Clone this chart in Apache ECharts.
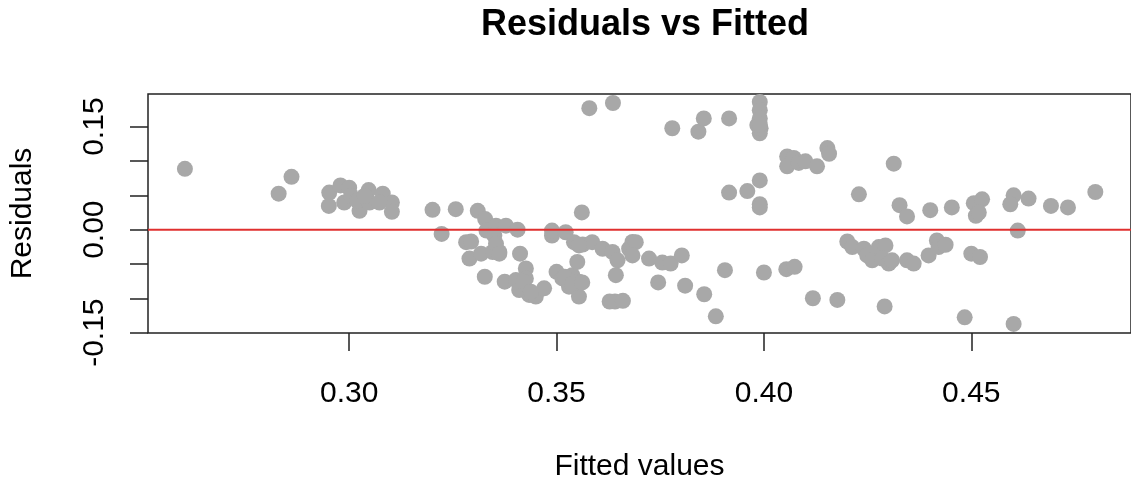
<!DOCTYPE html>
<html>
<head>
<meta charset="utf-8">
<title>Residuals vs Fitted</title>
<script src="https://cdn.jsdelivr.net/npm/echarts@6/dist/echarts.min.js"></script>
<style>
    html, body { margin: 0; padding: 0; background: #fff; }
    #chart { width: 1131px; height: 483px; }
</style>
</head>
<body>
<div id="chart"></div>
<script>
// fitted values (x) and residuals (y)
var fitted = [
    0.2604, 0.2830, 0.2861, 0.2952, 0.2951, 0.2979, 0.3000, 0.2988, 0.3005, 0.3025,
    0.3020, 0.3047, 0.3049, 0.3037, 0.3081, 0.3103, 0.3103, 0.3073, 0.3201, 0.3257,
    0.3223, 0.3579, 0.3636, 0.3310, 0.3328, 0.3331, 0.3354, 0.3378, 0.3406, 0.3350,
    0.3282, 0.3294, 0.3290, 0.3318, 0.3346, 0.3362, 0.3354, 0.3412, 0.3327, 0.3375,
    0.3426, 0.3402, 0.3426, 0.3410, 0.3434, 0.3450, 0.3470, 0.3489, 0.3489, 0.3522,
    0.3542, 0.3561, 0.3563, 0.3586, 0.3611, 0.3635, 0.3647, 0.3500, 0.3514, 0.3538,
    0.3550, 0.3554, 0.3530, 0.3554, 0.3643, 0.3641, 0.3628, 0.3362, 0.3420, 0.3438,
    0.3554, 0.3683, 0.3520, 0.3538, 0.3562, 0.3779, 0.3842, 0.3855, 0.3916, 0.3990,
    0.3990, 0.3990, 0.3984, 0.3990, 0.3992, 0.4056, 0.4072, 0.4056, 0.4084, 0.4100,
    0.4128, 0.4153, 0.4157, 0.3916, 0.3960, 0.3990, 0.3990, 0.3990, 0.4229, 0.3675,
    0.3691, 0.3683, 0.3660, 0.3723, 0.3755, 0.3775, 0.3802, 0.3745, 0.3810, 0.3856,
    0.3884, 0.3906, 0.4000, 0.4054, 0.4074, 0.4118, 0.4177, 0.4201, 0.4213, 0.4313,
    0.4327, 0.4345, 0.4401, 0.4453, 0.4506, 0.4526, 0.4511, 0.4518, 0.4602, 0.4594,
    0.4638, 0.4692, 0.4733, 0.4799, 0.4612, 0.4241, 0.4249, 0.4261, 0.4277, 0.4293,
    0.4285, 0.4301, 0.4309, 0.4345, 0.4361, 0.4397, 0.4417, 0.4421, 0.4438, 0.4500,
    0.4521, 0.4291, 0.4484, 0.4602, 0.3990
];
var resid = [
    0.0885, 0.0524, 0.0769, 0.0540, 0.0346, 0.0644, 0.0610, 0.0395, 0.0490, 0.0274,
    0.0418, 0.0576, 0.0395, 0.0490, 0.0524, 0.0395, 0.0260, 0.0395, 0.0288, 0.0298,
    -0.0062, 0.1768, 0.1844, 0.0274, 0.0154, -0.0014, 0.0058, 0.0058, 0.0000, -0.0086,
    -0.0182, -0.0173, -0.0422, -0.0350, -0.0326, -0.0326, -0.0206, -0.0350, -0.0686, -0.0758,
    -0.0566, -0.0735, -0.0710, -0.0879, -0.0951, -0.0974, -0.0854, -0.0086, -0.0014, -0.0038,
    -0.0182, 0.0251, -0.0216, -0.0182, -0.0278, -0.0326, -0.0447, -0.0614, -0.0710, -0.0663,
    -0.0470, -0.0758, -0.0830, -0.0974, -0.0663, -0.1046, -0.1046, -0.0350, -0.0758, -0.0903,
    -0.0230, -0.0180, -0.0686, -0.0788, -0.0768, 0.1476, 0.1427, 0.1620, 0.1620, 0.1859,
    0.1740, 0.1620, 0.1523, 0.1403, 0.1475, 0.1066, 0.1043, 0.0922, 0.0971, 0.0994,
    0.0922, 0.1187, 0.1105, 0.0539, 0.0562, 0.0716, 0.0370, 0.0323, 0.0514, -0.0278,
    -0.0182, -0.0375, -0.1037, -0.0422, -0.0480, -0.0494, -0.0375, -0.0768, -0.0816, -0.0941,
    -0.1262, -0.0590, -0.0624, -0.0576, -0.0542, -0.0999, -0.1023, -0.0173, -0.0254, 0.0961,
    0.0356, 0.0193, 0.0284, 0.0323, 0.0385, 0.0442, 0.0202, 0.0250, 0.0500, 0.0370,
    0.0452, 0.0346, 0.0323, 0.0548, -0.0014, -0.0278, -0.0375, -0.0447, -0.0254, -0.0230,
    -0.0422, -0.0494, -0.0447, -0.0447, -0.0494, -0.0375, -0.0158, -0.0254, -0.0220, -0.0350,
    -0.0398, -0.1118, -0.1277, -0.1373, 0.1530
];
var xTicks = [0.30, 0.35, 0.40, 0.45];
var yTicks = [-0.15, -0.10, -0.05, 0.00, 0.05, 0.10, 0.15];
var yLabels = [-0.15, 0.00, 0.15];

var xMin = 0.2515, xMax = 0.4885;
var yMin = -0.1505, yMax = 0.1975;

var points = [];
for (var i = 0; i < fitted.length; i++) {
    points.push([fitted[i], resid[i]]);
}

var font = 'Liberation Sans, Arial, Helvetica, sans-serif';
var chart = echarts.init(document.getElementById('chart'));
var option = {
    animation: false,
    backgroundColor: '#fff',
    title: {
        text: 'Residuals vs Fitted',
        left: 640,
        textAlign: 'center',
        top: 2,
        textStyle: {
            fontFamily: font,
            fontSize: 36,
            fontWeight: 'bold',
            color: '#000'
        }
    },
    grid: {
        left: 148,
        top: 94,
        width: 986,
        height: 240,
        show: true,
        borderColor: '#222',
        borderWidth: 1.5
    },
    xAxis: {
        type: 'value',
        min: xMin,
        max: xMax,
        name: 'Fitted values',
        nameLocation: 'middle',
        nameGap: 119,
        nameTextStyle: { fontFamily: font, fontSize: 30, color: '#000' },
        axisLine: { show: false, onZero: false },
        splitLine: { show: false },
        axisTick: {
            show: true,
            inside: false,
            customValues: xTicks,
            length: 18,
            lineStyle: { color: '#222', width: 1.5 }
        },
        axisLabel: {
            customValues: xTicks,
            margin: 46,
            fontFamily: font,
            fontSize: 30,
            color: '#000',
            formatter: function (v) { return v.toFixed(2); }
        }
    },
    yAxis: {
        type: 'value',
        min: yMin,
        max: yMax,
        name: 'Residuals',
        nameLocation: 'middle',
        nameGap: 110,
        nameTextStyle: { fontFamily: font, fontSize: 30, color: '#000' },
        axisLine: { show: false, onZero: false },
        splitLine: { show: false },
        axisTick: {
            show: true,
            customValues: yTicks,
            length: 18,
            lineStyle: { color: '#222', width: 1.5 }
        },
        axisLabel: {
            customValues: yLabels,
            rotate: 90,
            margin: 38,
            fontFamily: font,
            fontSize: 30,
            color: '#000',
            formatter: function (v) { return v.toFixed(2); }
        }
    },
    series: [
        {
            type: 'scatter',
            data: points,
            symbolSize: 16,
            z: 2,
            itemStyle: { color: '#a8a8a8', opacity: 1 }
        },
        {
            // horizontal reference line at zero
            type: 'line',
            data: [[xMin, 0], [xMax, 0]],
            symbol: 'none',
            z: 3,
            lineStyle: { color: '#e0302f', width: 2 }
        }
    ]
};
chart.setOption(option);
</script>
</body>
</html>
